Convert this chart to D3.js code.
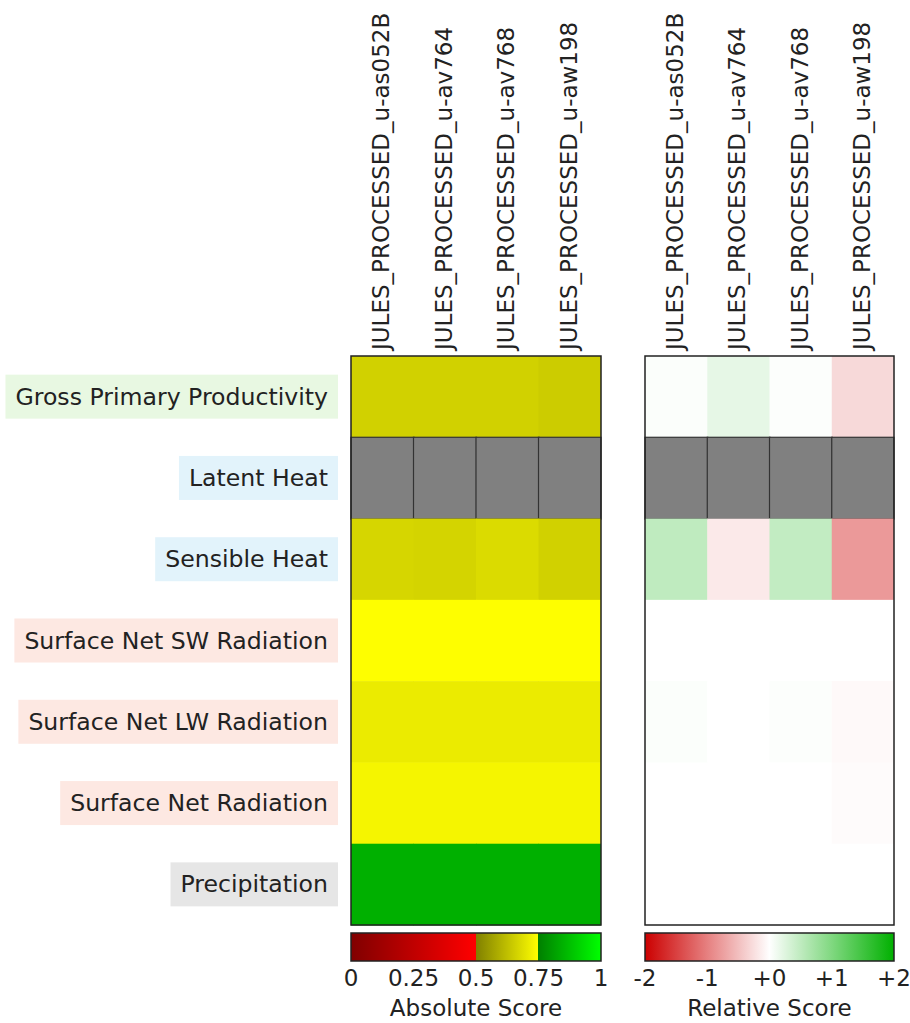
<!DOCTYPE html>
<html>
<head>
<meta charset="utf-8">
<script src="https://cdn.jsdelivr.net/npm/d3@7"></script>
<style>
  body { margin: 0; background: #fff; }
  text { font-family: "DejaVu Sans", sans-serif; fill: #222; }
</style>
</head>
<body>
<div id="plot"></div>
<script>
var models = ['JULES_PROCESSED_u-as052B', 'JULES_PROCESSED_u-av764', 'JULES_PROCESSED_u-av768', 'JULES_PROCESSED_u-aw198'];
var variables = ['Gross Primary Productivity', 'Latent Heat', 'Sensible Heat', 'Surface Net SW Radiation', 'Surface Net LW Radiation', 'Surface Net Radiation', 'Precipitation'];
var labelBg = ['#e8f8e2', '#e2f3fb', '#e2f3fb', '#fde8e2', '#fde8e2', '#fde8e2', '#e6e6e6'];

// null = no data (grey)
var absScore = [
  [0.66, 0.66, 0.66, 0.65],
  [null, null, null, null],
  [0.67, 0.665, 0.68, 0.66],
  [0.749, 0.749, 0.749, 0.749],
  [0.71, 0.71, 0.71, 0.71],
  [0.73, 0.73, 0.73, 0.73],
  [0.845, 0.845, 0.845, 0.845]
];
var relScore = [
  [0.03, 0.2, 0.02, -0.3],
  [null, null, null, null],
  [0.5, -0.17, 0.48, -0.8],
  [0, 0, 0, 0],
  [0.03, 0, 0.02, -0.05],
  [0, 0, 0, -0.03],
  [0, 0, 0, 0]
];
var absTicks = [0, 0.25, 0.5, 0.75, 1];
var absTickLabels = ['0', '0.25', '0.5', '0.75', '1'];
var relTicks = [-2, -1, 0, 1, 2];
var relTickLabels = ['-2', '-1', '+0', '+1', '+2'];

var W = 910, H = 1023;
var svg = d3.select('#plot').append('svg').attr('width', W).attr('height', H);

var gridTop = 356, gridBottom = 925;
var y = d3.scaleBand().domain(variables).range([gridTop, gridBottom]);

// absolute colour map: red / yellow / green segments
var redSeg = d3.scaleLinear().domain([0, 0.5]).range(['#800000', '#ff0000']);
var yelSeg = d3.scaleLinear().domain([0.5, 0.75]).range(['#808000', '#ffff00']);
var grnSeg = d3.scaleLinear().domain([0.75, 1]).range(['#008000', '#00ff00']);
function absColor(v) {
  if (v == null) return '#808080';
  if (v < 0.5) return redSeg(v);
  if (v < 0.75) return yelSeg(v);
  return grnSeg(v);
}
var relScale = d3.scaleLinear().domain([-2, 0, 2]).range(['#cc0000', '#ffffff', '#00b000']).clamp(true);
function relColor(v) {
  if (v == null) return '#808080';
  return relScale(v);
}

function drawPanel(x0, x1, values, colorFn) {
  var x = d3.scaleBand().domain(models).range([x0, x1]);
  var g = svg.append('g');
  variables.forEach(function (v, i) {
    models.forEach(function (m, j) {
      var val = values[i][j];
      g.append('rect')
        .attr('x', x(m)).attr('y', y(v))
        .attr('width', x.bandwidth() + (j < models.length - 1 ? 0.5 : 0))
        .attr('height', y.bandwidth() + 0.5)
        .attr('fill', colorFn(val))
        .attr('stroke', val == null ? '#333' : 'none')
        .attr('stroke-width', val == null ? 1.2 : 0);
    });
  });
  g.append('rect')
    .attr('x', x0).attr('y', gridTop)
    .attr('width', x1 - x0).attr('height', gridBottom - gridTop)
    .attr('fill', 'none').attr('stroke', '#222').attr('stroke-width', 1.5);

  // column labels
  models.forEach(function (m) {
    var cx = x(m) + x.bandwidth() / 2;
    svg.append('text')
      .attr('transform', 'translate(' + (cx + 7) + ',' + (gridTop - 6) + ') rotate(-90)')
      .attr('text-anchor', 'start')
      .style('font-size', '23px')
      .text(m);
  });
  return x;
}

drawPanel(351, 601, absScore, absColor);
drawPanel(645, 894, relScore, relColor);

// row labels with coloured boxes
var labelLayer = svg.append('g');
variables.forEach(function (v, i) {
  var cy = y(v) + y.bandwidth() / 2;
  var box = labelLayer.append('rect');
  var t = labelLayer.append('text')
    .attr('x', 328).attr('y', cy)
    .attr('text-anchor', 'end')
    .attr('dominant-baseline', 'central')
    .style('font-size', '23.6px')
    .text(v);
  var w = t.node().getComputedTextLength();
  box.attr('x', 328 - w - 10).attr('y', cy - 22)
    .attr('width', w + 20).attr('height', 44)
    .attr('fill', labelBg[i]);
});

// colour bars
var defs = svg.append('defs');
var gAbs = defs.append('linearGradient').attr('id', 'gradAbs');
[[0, '#800000'], [0.5, '#ff0000'], [0.5, '#808000'], [0.75, '#ffff00'], [0.75, '#008000'], [1, '#00ff00']]
  .forEach(function (s) {
    gAbs.append('stop').attr('offset', (s[0] * 100) + '%').attr('stop-color', s[1]);
  });
var gRel = defs.append('linearGradient').attr('id', 'gradRel');
d3.range(-2, 2.01, 0.25).forEach(function (v) {
  gRel.append('stop').attr('offset', ((v + 2) / 4 * 100) + '%').attr('stop-color', relScale(v));
});

function colorBar(x0, x1, grad, domain, ticks, tickLabels, title) {
  var cb = d3.scaleLinear().domain(domain).range([x0, x1]);
  svg.append('rect')
    .attr('x', x0).attr('y', 933)
    .attr('width', x1 - x0).attr('height', 28)
    .attr('fill', 'url(#' + grad + ')')
    .attr('stroke', '#222').attr('stroke-width', 1.5);
  ticks.forEach(function (t, i) {
    svg.append('text')
      .attr('x', cb(t)).attr('y', 986)
      .attr('text-anchor', 'middle')
      .style('font-size', '23px')
      .text(tickLabels[i]);
  });
  svg.append('text')
    .attr('x', (x0 + x1) / 2).attr('y', 1016)
    .attr('text-anchor', 'middle')
    .style('font-size', '23px')
    .text(title);
}
colorBar(351, 601, 'gradAbs', [0, 1], absTicks, absTickLabels, 'Absolute Score');
colorBar(645, 894, 'gradRel', [-2, 2], relTicks, relTickLabels, 'Relative Score');
</script>
</body>
</html>
